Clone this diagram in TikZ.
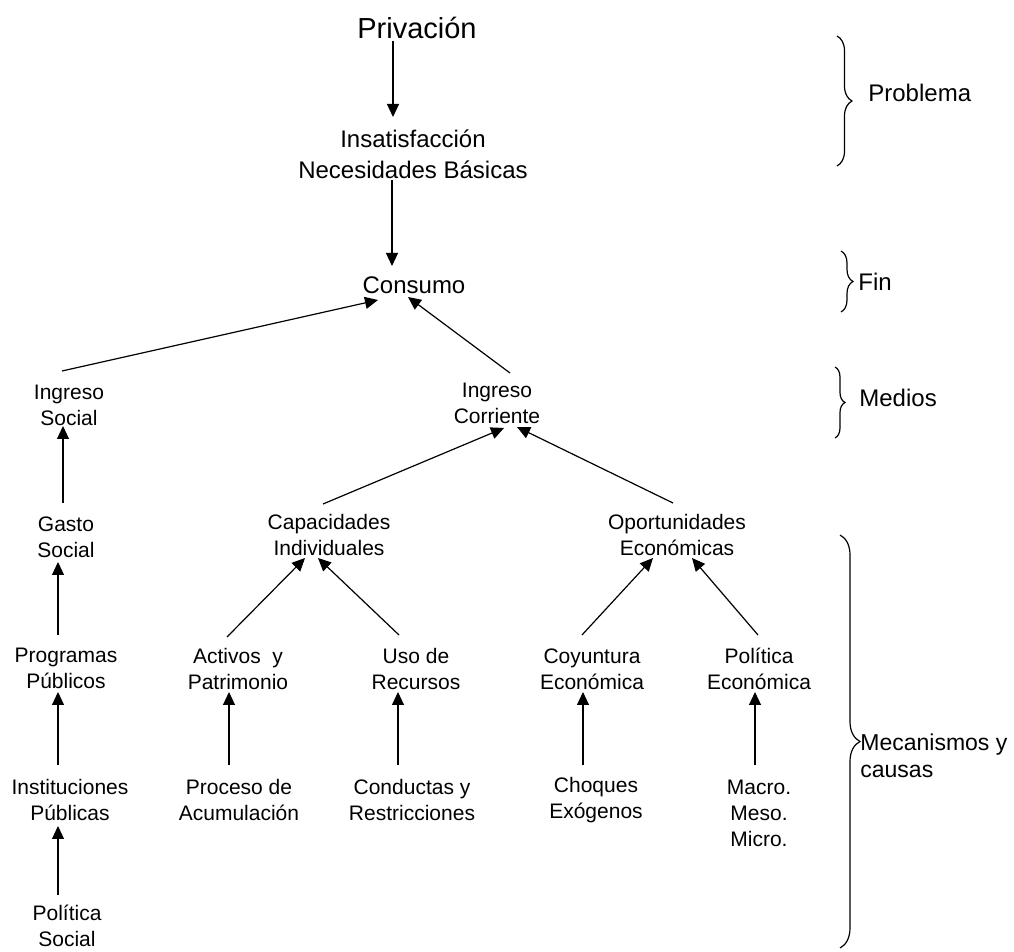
\documentclass[tikz,border=0pt]{standalone}
\usepackage{fontspec}
\setmainfont{Liberation Sans}
\usetikzlibrary{arrows.meta,calc,decorations.pathreplacing}
\tikzset{
  txt/.style={align=center,inner sep=0pt,font=\fontsize{10.5}{13}\selectfont},
  toptxt/.style={align=center,inner sep=0pt,font=\fontsize{12}{15.5}\selectfont},
  lbl/.style={align=left,inner sep=0pt,font=\fontsize{12}{13.5}\selectfont},
  arr/.style={-{Triangle[length=6.5pt,width=6pt]},line width=0.6pt},
  brc/.style={decorate,decoration={brace,amplitude=#1},line width=0.6pt},
}

\begin{document}
\begin{tikzpicture}[x=0.5pt,y=-0.5pt]
  \useasboundingbox (0,0) rectangle (1014,952);

  % problema y fin
  \node[toptxt,font=\fontsize{14.5}{16}\selectfont] (priv) at (417,28) {Privación};
  \node[toptxt] (insat) at (413,154) {Insatisfacción\\Necesidades Básicas};
  \node[toptxt] (cons) at (414,285) {Consumo};

  % medios
  \node[txt] (insoc) at (69,405) {Ingreso\\Social};
  \node[txt] (incorr) at (497,403) {Ingreso\\Corriente};

  % mecanismos y causas
  \node[txt] (gasto) at (66,537) {Gasto\\Social};
  \node[txt] (capac) at (329,535) {Capacidades\\Individuales};
  \node[txt] (oport) at (677,535) {Oportunidades\\Económicas};
  \node[txt] (prog) at (66,668) {Programas\\Públicos};
  \node[txt] (activ) at (238,669) {Activos\ \ y\\Patrimonio};
  \node[txt] (uso) at (416,669) {Uso de\\Recursos};
  \node[txt] (coyun) at (592,669) {Coyuntura\\Económica};
  \node[txt] (poleco) at (759,669) {Política\\Económica};
  \node[txt] (instit) at (70,800) {Instituciones\\Públicas};
  \node[txt] (proc) at (239,800) {Proceso de\\Acumulación};
  \node[txt] (cond) at (412,800) {Conductas y\\Restricciones};
  \node[txt] (choq) at (596,800) {Choques\\Exógenos};
  \node[txt] (macro) at (759,813) {Macro.\\Meso.\\Micro.};
  \node[txt] (polsoc) at (67,926) {Política\\Social};

  % flechas
  \draw[arr] ($(priv)+(-24,13)$) -- ($(insat)+(-20,-37)$);
  \draw[arr] ($(insat)+(-21,26)$) -- ($(cons)+(-22,-19)$);
  \draw[arr] ($(insoc)+(-7,-34)$) -- ($(cons)+(-36,15)$);
  \draw[arr] ($(incorr)+(13,-30)$) -- ($(cons)+(-6,12)$);
  \draw[arr] ($(gasto)+(-3,-34)$) -- ($(insoc)+(-6,21)$);
  \draw[arr] ($(capac)+(-6,-31)$) -- ($(incorr)+(7,25)$);
  \draw[arr] ($(oport)+(-4,-32)$) -- ($(incorr)+(20,24)$);
  \draw[arr] ($(prog)+(-8,-33)$) -- ($(gasto)+(-8,25)$);
  \draw[arr] ($(activ)+(-11,-32)$) -- ($(capac)+(-24,23)$);
  \draw[arr] ($(uso)+(-17,-34)$) -- ($(capac)+(-11,23)$);
  \draw[arr] ($(coyun)+(-10,-34)$) -- ($(oport)+(-24,23)$);
  \draw[arr] ($(poleco)+(-1,-34)$) -- ($(oport)+(15,23)$);
  \draw[arr] ($(instit)+(-12,-35)$) -- ($(prog)+(-8,24)$);
  \draw[arr] ($(proc)+(-10,-35)$) -- ($(activ)+(-9,23)$);
  \draw[arr] ($(cond)+(-14,-35)$) -- ($(uso)+(-18,23)$);
  \draw[arr] ($(choq)+(-13,-35)$) -- ($(coyun)+(-9,23)$);
  \draw[arr] ($(macro)+(-4,-48)$) -- ($(poleco)+(-4,23)$);
  \draw[arr] ($(polsoc)+(-9,-31)$) -- ($(instit)+(-12,26)$);

  % llaves
  \draw[brc=7.5pt] (837,36) -- (837,166);
  \node[lbl,anchor=base west] (lprob) at (868,102) {Problema};
  \draw[brc=6pt] (841,251) -- (841,312);
  \node[lbl,anchor=base west] (lfin) at (858,291) {Fin};
  \draw[brc=5pt] (835,367) -- (835,438);
  \node[lbl,anchor=base west] (lmed) at (859,407) {Medios};
  \draw[brc=10pt] (840,535) -- (840,948);
  \node[lbl,anchor=north west,font=\fontsize{11.5}{13.5}\selectfont] (lmec) at (860,733) {Mecanismos y\\causas};
\end{tikzpicture}
\end{document}
